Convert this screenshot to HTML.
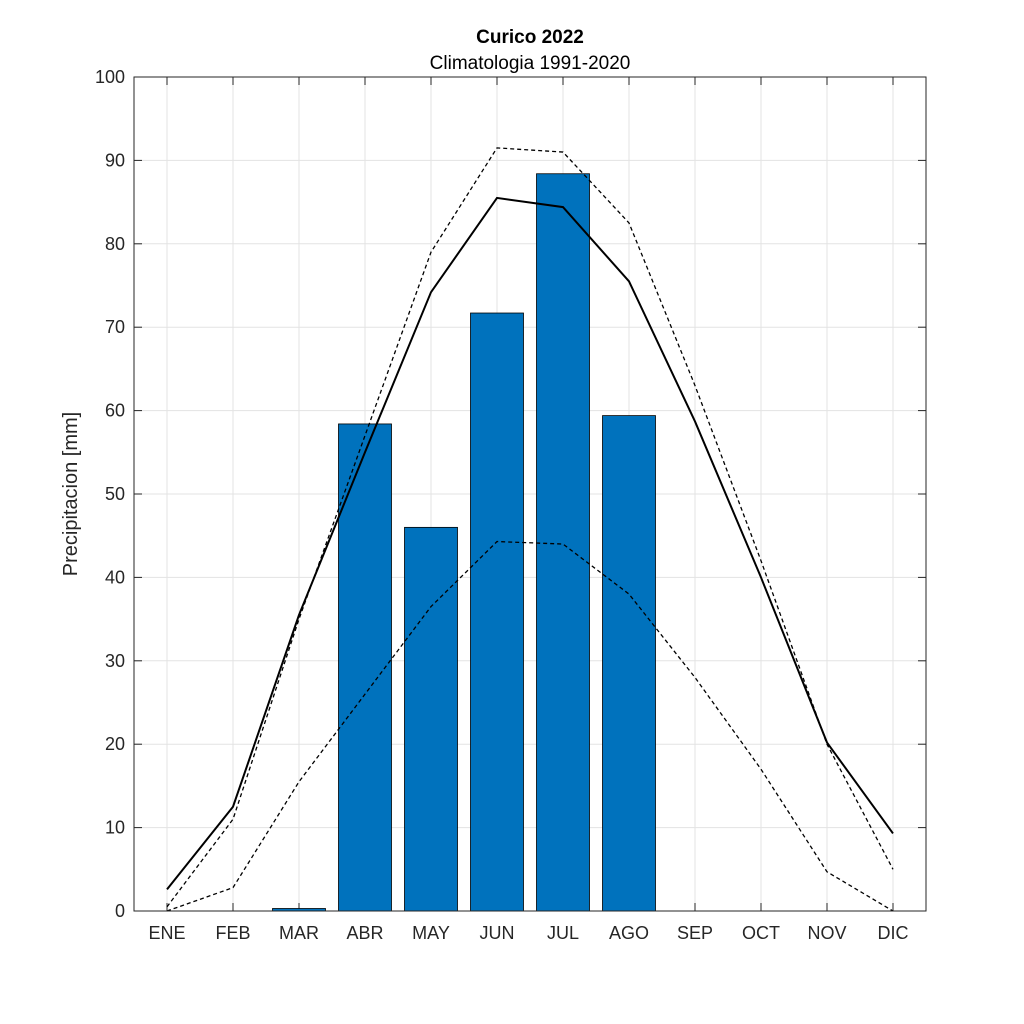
<!DOCTYPE html>
<html><head><meta charset="utf-8"><style>body{margin:0;background:#fff}svg{display:block}text{font-family:"Liberation Sans","DejaVu Sans",sans-serif;fill:#262626}</style></head>
<body>
<svg id="s" width="1024" height="1024" xmlns="http://www.w3.org/2000/svg">
<rect width="1024" height="1024" fill="#fff"/>
<text x="530" y="43" font-size="19" font-weight="bold" text-anchor="middle" style="fill:#000">Curico 2022</text>
<text x="530" y="69" font-size="19" text-anchor="middle" style="fill:#000">Climatologia 1991-2020</text>
<text transform="translate(77,494) rotate(-90)" font-size="20" text-anchor="middle">Precipitacion [mm]</text>
</svg>
<script>
var s=document.getElementById('s'),ns='http://www.w3.org/2000/svg';
function el(t,a,txt){var e=document.createElementNS(ns,t);for(var k in a)e.setAttribute(k,a[k]);if(txt)e.textContent=txt;s.appendChild(e);return e;}
var L=134,R=926,T=77,B=911;function Y(v){return B-v*(B-T)/100;}function X(i){return L+33+66*i;}
for(var v=0;v<=100;v+=10){el('line',{x1:L,x2:R,y1:Y(v),y2:Y(v),stroke:'#e3e3e3','stroke-width':1});
el('text',{x:L-9,y:Y(v)+6,'font-size':18,'text-anchor':'end'},''+v);
el('line',{x1:L,x2:L+8,y1:Y(v),y2:Y(v),stroke:'#262626'});el('line',{x1:R,x2:R-8,y1:Y(v),y2:Y(v),stroke:'#262626'});}
var m=['ENE','FEB','MAR','ABR','MAY','JUN','JUL','AGO','SEP','OCT','NOV','DIC'];
for(var i=0;i<12;i++){el('line',{x1:X(i),x2:X(i),y1:T,y2:B,stroke:'#e3e3e3'});
el('text',{x:X(i),y:B+28,'font-size':18,'text-anchor':'middle'},m[i]);
el('line',{x1:X(i),x2:X(i),y1:B,y2:B-8,stroke:'#262626'});el('line',{x1:X(i),x2:X(i),y1:T,y2:T+8,stroke:'#262626'});}
var bars=[0,0,0.3,58.4,46,71.7,88.4,59.4,0,0,0,0];
bars.forEach(function(v,i){if(v>0)el('rect',{x:X(i)-26.5,y:Y(v),width:53,height:B-Y(v),fill:'#0072bd',stroke:'#000','stroke-width':0.8});});
function line(d,dash,w){el('polyline',{points:d.map(function(v,i){return X(i)+','+Y(v)}).join(' '),fill:'none',stroke:'#000','stroke-width':w,'stroke-dasharray':dash||'none'});}
line([2.6,12.5,35.5,55,74.2,85.5,84.4,75.5,58.7,40,20.2,9.3],null,2);
line([0.5,11,35,57,79,91.5,91,82.5,63,42,20,5],'4,3',1.3);
line([0,2.8,15.5,26,36.5,44.3,44,38,28,17,4.7,0],'4,3',1.3);
el('rect',{x:L,y:T,width:R-L,height:B-T,fill:'none',stroke:'#262626','stroke-width':1});
</script>
</body></html>
